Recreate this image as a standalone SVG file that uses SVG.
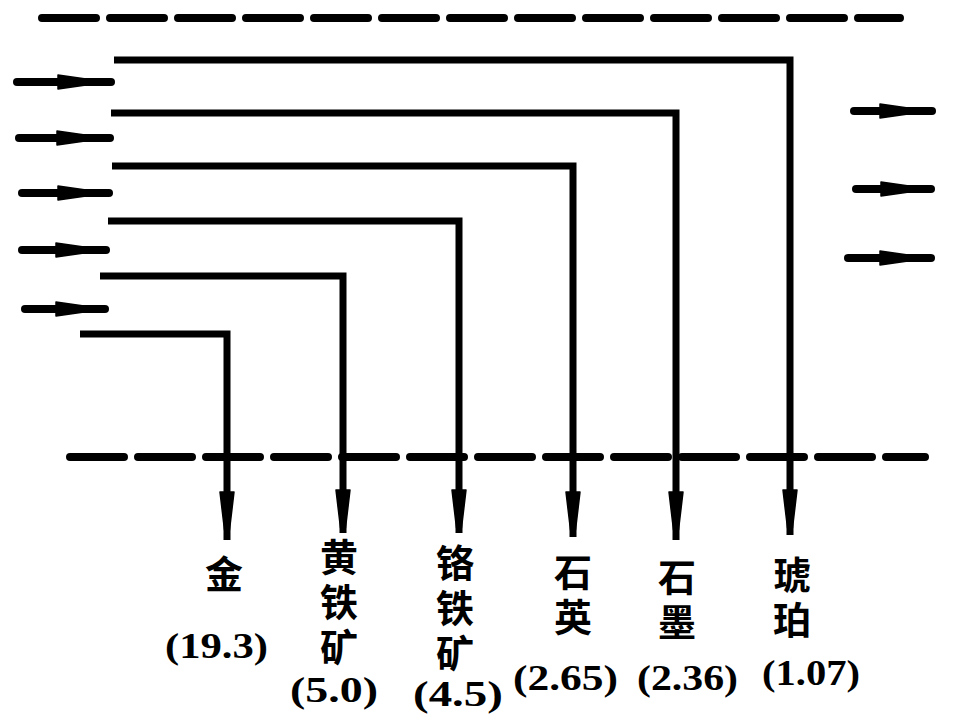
<svg xmlns="http://www.w3.org/2000/svg" xmlns:xlink="http://www.w3.org/1999/xlink" width="960" height="720" viewBox="0 0 960 720">
<style>
.bg{fill:#fff}
.dash{fill:none;stroke:#000;stroke-width:8;stroke-linecap:round}
.conn{fill:none;stroke:#000;stroke-width:7;stroke-linejoin:miter;stroke-linecap:butt}
.flow{fill:none;stroke:#000;stroke-width:8;stroke-linecap:round}
.head{fill:#000;stroke:#000;stroke-width:1.5;stroke-linejoin:round}
.cjk{font-family:"Noto Sans CJK SC","Noto Sans CJK TC",sans-serif;font-weight:bold;font-size:38px;fill:#000;text-anchor:middle;dominant-baseline:central}
.vcjk{font-family:"Noto Sans CJK SC","Noto Sans CJK TC",sans-serif;font-weight:bold;font-size:38px;fill:#000;writing-mode:vertical-rl;text-anchor:start;letter-spacing:7px}
.num{font-family:"Liberation Serif",serif;font-weight:bold;font-size:36px;fill:#000}
</style>
<defs>
<path id="ahD" class="head" d="M-7,0 L7,0 L2.5,38 L-2.5,38 Z"/>
<path id="ahR" class="head" d="M0,-7 L0,7 L28,3 L28,-3 Z"/>
</defs>
<rect class="bg" x="0" y="0" width="960" height="720"/>
<g id="boundaries">
<path class="dash" d="M42,18 H900" stroke-dasharray="54 14"/>
<path class="dash" d="M70,457 H925" stroke-dasharray="54 14"/>
</g>
<g id="flow-arrows">
<path class="flow" d="M17,82 H111"/><use xlink:href="#ahR" x="58" y="82"/>
<path class="flow" d="M19,138 H110"/><use xlink:href="#ahR" x="57" y="138"/>
<path class="flow" d="M22,193 H109"/><use xlink:href="#ahR" x="58" y="193"/>
<path class="flow" d="M22,250 H106"/><use xlink:href="#ahR" x="56" y="250"/>
<path class="flow" d="M25,309 H105"/><use xlink:href="#ahR" x="56" y="309"/>
<path class="flow" d="M854,111 H932"/><use xlink:href="#ahR" x="880" y="111"/>
<path class="flow" d="M856,189 H931"/><use xlink:href="#ahR" x="881" y="189"/>
<path class="flow" d="M848,258 H931"/><use xlink:href="#ahR" x="880" y="258"/>
</g>
<g id="connectors">
<path class="conn" d="M114,60 H790 V535"/><use xlink:href="#ahD" x="790" y="490"/>
<path class="conn" d="M111,113 H676 V540"/><use xlink:href="#ahD" x="676" y="492"/>
<path class="conn" d="M112,166 H573 V537"/><use xlink:href="#ahD" x="573" y="492"/>
<path class="conn" d="M108,221 H459 V533"/><use xlink:href="#ahD" x="459" y="490"/>
<path class="conn" d="M100,276 H343 V533"/><use xlink:href="#ahD" x="343" y="490"/>
<path class="conn" d="M80,334 H227 V540"/><use xlink:href="#ahD" x="227" y="492"/>
</g>
<g id="node-gold">
<text class="cjk" x="224" y="571">金</text>
<text class="num" x="165" y="658" textLength="103" lengthAdjust="spacingAndGlyphs">(19.3)</text>
</g>
<g id="node-pyrite">
<text class="vcjk" x="339" y="538">黄铁矿</text>
<text class="num" x="290" y="702" textLength="88" lengthAdjust="spacingAndGlyphs">(5.0)</text>
</g>
<g id="node-chromite">
<text class="vcjk" x="455" y="544">铬铁矿</text>
<text class="num" x="413" y="706" textLength="90" lengthAdjust="spacingAndGlyphs">(4.5)</text>
</g>
<g id="node-quartz">
<text class="vcjk" x="573" y="553">石英</text>
<text class="num" x="513" y="690" textLength="105" lengthAdjust="spacingAndGlyphs">(2.65)</text>
</g>
<g id="node-graphite">
<text class="vcjk" x="677" y="558">石墨</text>
<text class="num" x="637" y="690" textLength="101" lengthAdjust="spacingAndGlyphs">(2.36)</text>
</g>
<g id="node-amber">
<text class="vcjk" x="792" y="556">琥珀</text>
<text class="num" x="762" y="685" textLength="98" lengthAdjust="spacingAndGlyphs">(1.07)</text>
</g>
</svg>
